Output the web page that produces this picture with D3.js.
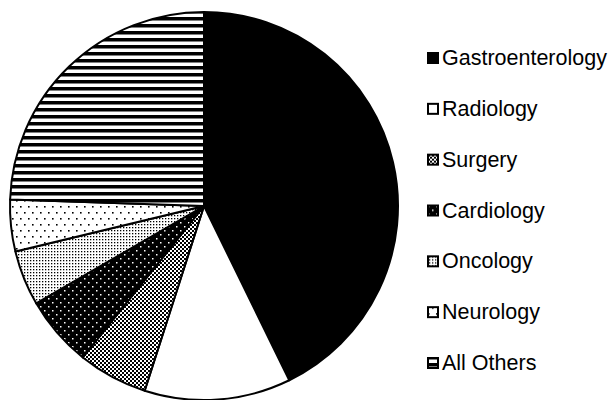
<!DOCTYPE html>
<html>
<head>
<meta charset="utf-8">
<script src="https://cdn.jsdelivr.net/npm/d3@7"></script>
<style>
  html, body { margin: 0; padding: 0; background: #fff; }
  svg { display: block; }
</style>
</head>
<body>
<svg id="chart" width="613" height="400"></svg>
<script>
const categories = ["Gastroenterology", "Radiology", "Surgery", "Cardiology", "Oncology", "Neurology", "All Others"];
const values = [42.8, 12.2, 5.8, 5.9, 4.6, 4.3, 24.5];
const patternIds = ["p-solid", "p-white", "p-checker", "p-blackdots", "p-finedots", "p-sparsedots", "p-hstripes"];

const svg = d3.select("#chart");
const defs = svg.append("defs");

function pattern(id, w, h, bg, draw) {
  const p = defs.append("pattern").attr("id", id)
    .attr("patternUnits", "userSpaceOnUse").attr("width", w).attr("height", h);
  p.append("rect").attr("width", w).attr("height", h).attr("fill", bg);
  if (draw) draw(p);
}
pattern("p-solid", 4, 4, "#000");
pattern("p-white", 4, 4, "#fff");
pattern("p-checker", 4, 4, "#fff", p => {
  p.append("rect").attr("x", 0).attr("y", 0).attr("width", 2).attr("height", 2).attr("fill", "#000");
  p.append("rect").attr("x", 2).attr("y", 2).attr("width", 2).attr("height", 2).attr("fill", "#000");
});
pattern("p-blackdots", 8, 8, "#000", p => {
  p.append("rect").attr("x", 0).attr("y", 0).attr("width", 1.5).attr("height", 1.5).attr("fill", "#fff");
  p.append("rect").attr("x", 4).attr("y", 4).attr("width", 1.5).attr("height", 1.5).attr("fill", "#fff");
});
pattern("p-finedots", 3, 3, "#fff", p => {
  p.append("rect").attr("x", 0).attr("y", 0).attr("width", 1.3).attr("height", 1.3).attr("fill", "#000");
});
pattern("p-sparsedots", 8, 12, "#fff", p => {
  p.append("rect").attr("x", 0).attr("y", 0).attr("width", 1.6).attr("height", 1.6).attr("fill", "#000");
  p.append("rect").attr("x", 4).attr("y", 6).attr("width", 1.6).attr("height", 1.6).attr("fill", "#000");
});
pattern("p-hstripes", 7, 7, "#fff", p => {
  p.append("rect").attr("x", 0).attr("y", 0).attr("width", 7).attr("height", 3.5).attr("fill", "#000");
});

const cx = 204, cy = 206, r = 194;
const pie = d3.pie().sort(null).value(d => d.value);
const data = categories.map((c, i) => ({ name: c, value: values[i], pat: patternIds[i] }));
const arc = d3.arc().innerRadius(0).outerRadius(r);

const g = svg.append("g").attr("transform", `translate(${cx},${cy})`);
g.selectAll("path").data(pie(data)).join("path")
  .attr("d", arc)
  .attr("fill", d => `url(#${d.data.pat})`)
  .attr("stroke", "#000")
  .attr("stroke-width", 2)
  .attr("stroke-linejoin", "round");

// Legend
const legendY = d3.scalePoint().domain(categories).range([65, 370]);
const lg = svg.append("g");
const items = lg.selectAll("g").data(data).join("g")
  .attr("transform", d => `translate(0,${legendY(d.name)})`);
items.append("rect")
  .attr("x", 428).attr("y", -12).attr("width", 10).attr("height", 10)
  .attr("fill", d => `url(#${d.pat})`)
  .attr("stroke", "#000").attr("stroke-width", 2);
items.append("text")
  .attr("x", 442).attr("y", 0)
  .attr("font-family", "'Liberation Sans', Arial, sans-serif")
  .attr("font-size", 21.5)
  .attr("fill", "#000")
  .text(d => d.name);
</script>
</body>
</html>
